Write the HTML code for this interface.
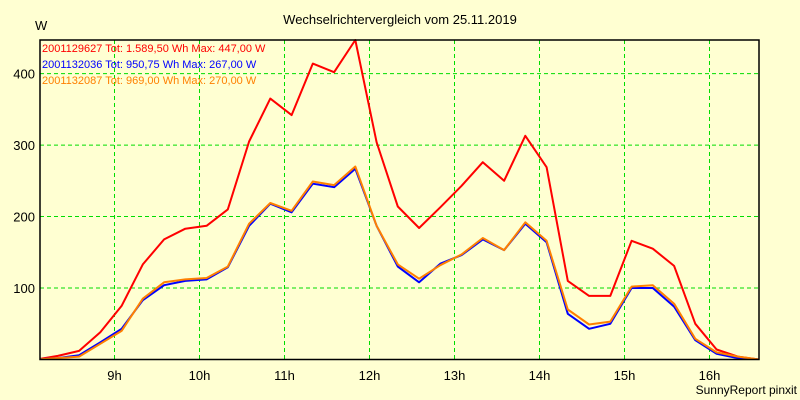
<!DOCTYPE html>
<html><head><meta charset="utf-8"><style>
html,body{margin:0;padding:0;background:#ffffd2;}
svg{display:block;font-family:"Liberation Sans",sans-serif;}
</style></head><body>
<svg id="chart" width="800" height="400" xmlns="http://www.w3.org/2000/svg">
<rect width="800" height="400" fill="#ffffd2"/>
<text x="400" y="24" text-anchor="middle" font-size="13" fill="#000">Wechselrichtervergleich vom 25.11.2019</text>
<text x="35" y="30" font-size="13" fill="#000">W</text>
<defs><clipPath id="pc"><rect x="40" y="38" width="719" height="322"/></clipPath></defs>
<g id="grid"></g>
<g id="ticks"></g>
<g id="series" clip-path="url(#pc)"></g>
<rect x="40" y="40" width="719" height="319.5" fill="none" stroke="#000" stroke-width="1.5"/>
<g font-size="11">
<text x="42" y="52" fill="#ff0000">2001129627 Tot: 1.589,50 Wh Max: 447,00 W</text>
<text x="42" y="68" fill="#0000ff">2001132036 Tot: 950,75 Wh Max: 267,00 W</text>
<text x="42" y="84" fill="#ff8000">2001132087 Tot: 969,00 Wh Max: 270,00 W</text>
</g>
<text x="797" y="394" text-anchor="end" font-size="12" fill="#000">SunnyReport pinxit</text>
<script>
const startMinutes = 485; // 8:05, 15-min steps
const seriesRed = [0,5,12,38,75,133,168,183,187,210,305,365,342,414,402,447,304,214,184,213,243,276,250,313,269,110,89,89,166,155,131,50,14,4,0];
const seriesBlue = [0,2,6,24,43,83,104,110,112,129,187,218,206,246,241,267,187,130,108,134,146,168,153,190,164,64,43,50,100,100,74,27,8,2,0];
const seriesOrange = [0,2,4,22,40,85,108,112,114,130,190,219,208,249,244,270,187,133,113,132,147,170,153,192,166,70,49,53,102,104,78,29,10,4,0];
const yTicks = [100,200,300,400];
const xTickHours = [9,10,11,12,13,14,15,16];
const xTickLabels = ["9h","10h","11h","12h","13h","14h","15h","16h"];
const NS="http://www.w3.org/2000/svg";
const X0=40,X1=759.5,Y0=359.5,Y1=40,YMAX=447;
function xm(min){return 709.5+(min-960)*85/60;}
function yv(v){return Y0-(v/YMAX)*(Y0-Y1);}
function mk(t,a,p){const e=document.createElementNS(NS,t);for(const k in a)e.setAttribute(k,a[k]);p.appendChild(e);return e;}
const grid=document.getElementById('grid'),ticks=document.getElementById('ticks'),ser=document.getElementById('series');
yTicks.forEach(v=>{
  const l=mk('line',{x1:X0,x2:X1,y1:yv(v),y2:yv(v),stroke:'#00dd00','stroke-width':1,'stroke-dasharray':'4,3'},grid);
  
  
  const t=mk('text',{x:35,y:yv(v)+5,'text-anchor':'end','font-size':13,fill:'#000'},ticks);
  t.textContent=v;
  
  
});
xTickHours.forEach((h,i)=>{
  const x=xm(h*60);
  const l=mk('line',{x1:x,x2:x,y1:Y1,y2:Y0,stroke:'#00dd00','stroke-width':1,'stroke-dasharray':'4,3'},grid);
  
  
  const t=mk('text',{x:x,y:380,'text-anchor':'middle','font-size':13,fill:'#000'},ticks);
  t.textContent=xTickLabels[i];
  
  
});
function line(vals,color,name){
  const pts=vals.map((v,i)=>xm(startMinutes+i*15).toFixed(1)+','+yv(v).toFixed(1)).join(' ');
  const p=mk('polyline',{points:pts,fill:'none',stroke:color,'stroke-width':2,'stroke-linejoin':'round'},ser);
  
  
}
line(seriesRed,'#ff0000','series-2001129627');
line(seriesBlue,'#0000ff','series-2001132036');
line(seriesOrange,'#ff8000','series-2001132087');
</script>
</svg>
</body></html>
